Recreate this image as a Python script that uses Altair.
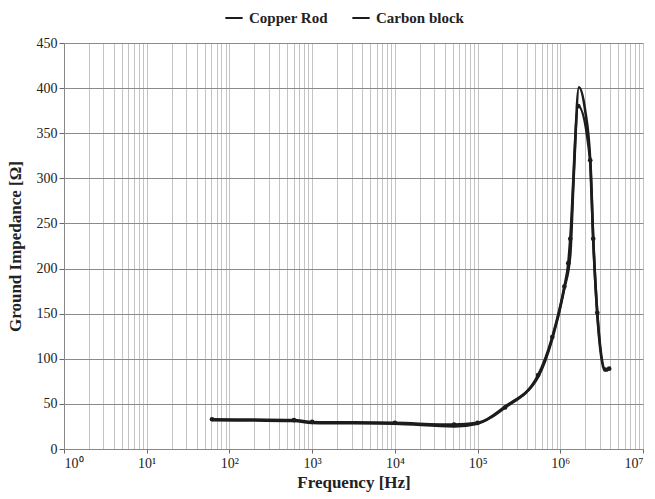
import altair as alt
import pandas as pd

# Carbon block (with markers)
carbon_freq = [61.6, 603, 1000, 1e4, 5.2e4, 1e5, 2.15e5, 5.4e5, 8e5, 1.12e6, 1.25e6,
               1.32e6, 1.65e6, 2.3e6, 2.5e6, 2.8e6, 3.5e6, 3.9e6]
carbon_imp = [33, 32, 30, 29, 27, 29, 46, 82, 124, 180, 206,
              233, 380, 320, 233, 151, 88, 89]

# Copper rod (line only)
copper_freq = [61.6, 603, 1000, 1e4, 5.2e4, 1e5, 2.15e5, 5.4e5, 8e5, 1.12e6, 1.32e6,
               1.45e6, 1.68e6, 2.0e6, 2.3e6, 2.5e6, 2.8e6, 3.4e6, 3.8e6]
copper_imp = [32, 31, 29, 28, 25, 28, 47, 80, 122, 178, 215,
              300, 401, 375, 320, 233, 150, 88, 87]

x_grid = [m * 10 ** k for k in range(0, 7) for m in range(1, 10)] + [10 ** 7]
y_ticks = list(range(0, 451, 50))
series = ["Copper Rod", "Carbon block"]

df = pd.concat([
    pd.DataFrame({"freq": copper_freq, "imp": copper_imp, "series": "Copper Rod"}),
    pd.DataFrame({"freq": carbon_freq, "imp": carbon_imp, "series": "Carbon block"}),
])
df_pts = df[df.series == "Carbon block"]

FONT = "Liberation Serif"
is_major = "abs(log(datum.value)/LN10 - round(log(datum.value)/LN10)) < 0.001"
sup = "['\u2070','\u00b9','\u00b2','\u00b3','\u2074','\u2075','\u2076','\u2077']"

x_enc = alt.X("freq:Q", scale=alt.Scale(type="log", domain=[1, 1e7], nice=False),
              axis=alt.Axis(values=x_grid, title="Frequency [Hz]",
                            labelExpr=f"{is_major} ? '10' + {sup}[round(log(datum.value)/LN10)] : ''",
                            labelOverlap=False, labelFontSize=14, labelPadding=3, labelFont=FONT,
                            tickOpacity=alt.condition(is_major, alt.value(1), alt.value(0)),
                            tickSize=4, gridColor="#c4c4c4", gridWidth=1,
                            titleFont=FONT, titleFontSize=17, titleFontWeight="bold", titlePadding=4))
y_enc = alt.Y("imp:Q", scale=alt.Scale(domain=[0, 450], nice=False),
              axis=alt.Axis(values=y_ticks, title="Ground Impedance [\u03a9]",
                            labelFont=FONT, labelFontSize=14, tickSize=5,
                            gridColor="#8a8a8a", gridWidth=1,
                            titleFont=FONT, titleFontSize=17, titleFontWeight="bold", titlePadding=12))
color_enc = alt.Color("series:N", scale=alt.Scale(domain=series, range=["#1c1c1c", "#1c1c1c"]),
                      legend=alt.Legend(title=None, orient="none", direction="horizontal",
                                        legendX=160, legendY=-35, symbolType="stroke",
                                        symbolSize=300, symbolStrokeWidth=2,
                                        labelFont=FONT, labelFontSize=15, labelFontWeight="bold",
                                        columnPadding=20, labelOffset=5))

lines = alt.Chart(df).mark_line(interpolate="monotone", strokeWidth=2.6).encode(
    x=x_enc, y=y_enc, color=color_enc, detail="series:N")
pts = alt.Chart(df_pts).mark_circle(size=22, color="#1c1c1c", opacity=1).encode(
    x="freq:Q", y="imp:Q")

chart = (lines + pts).properties(
    width=579, height=406,
    autosize=alt.AutoSizeParams(type="none"),
    padding={"left": 64, "top": 43, "right": 12, "bottom": 50},
).configure(font=FONT).configure_axis(
    domainColor="#888", tickColor="#666", labelColor="#222", titleColor="#222",
    labelFont=FONT, titleFont=FONT
).configure_legend(labelFont=FONT, labelColor="#222").configure_view(stroke=None)

chart.save("out.html", embed_options={"renderer": "svg", "actions": False})
